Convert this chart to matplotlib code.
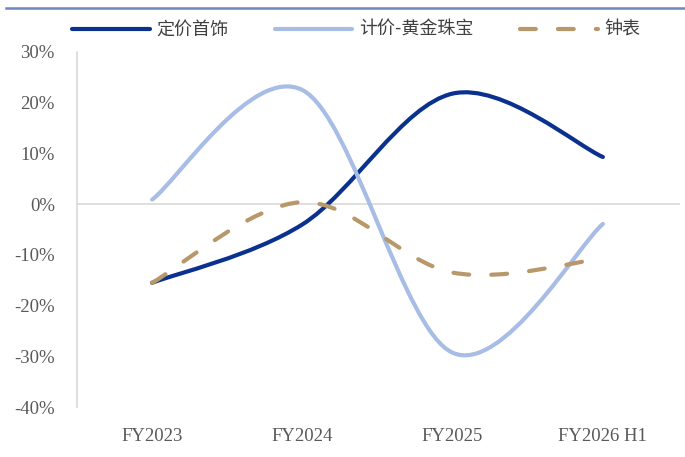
import numpy as np
import matplotlib
matplotlib.use("Agg")
import matplotlib.pyplot as plt
from matplotlib.path import Path
from matplotlib.patches import PathPatch
from matplotlib.lines import Line2D

categories = ["FY2023", "FY2024", "FY2025", "FY2026 H1"]
pricing_jewelry = [-15.5, -4.0, 21.8, 9.3]      # 定价首饰
gold_by_weight = [0.9, 22.5, -29.3, -3.9]       # 计价-黄金珠宝
watches = [-15.5, 0.4, -13.5, -10.7]            # 钟表
yticks = list(range(-40, 31, 10))

plt.rcParams["font.family"] = ["Noto Sans CJK SC", "DejaVu Sans"]


def smooth_path(ys):
    # Excel-like smoothed line: cubic Bezier through every point
    xs = np.arange(len(ys), dtype=float)
    pts = np.column_stack([xs, np.asarray(ys, float)])
    ext = np.vstack([pts[0], pts, pts[-1]])
    verts = [tuple(pts[0])]
    codes = [Path.MOVETO]
    for i in range(len(pts) - 1):
        p0, p1, p2, p3 = ext[i], ext[i + 1], ext[i + 2], ext[i + 3]
        c1 = p1 + (p2 - p0) / 6
        c2 = p2 - (p3 - p1) / 6
        verts += [tuple(c1), tuple(c2), tuple(p2)]
        codes += [Path.CURVE4] * 3
    return Path(verts, codes)


fig = plt.figure(figsize=(6.85, 4.57), dpi=100)
ax = fig.add_axes([77 / 685, 1 - 407 / 457, 603 / 685, 355 / 457])

series = [
    ("定价首饰", pricing_jewelry, "#0b318f", "-"),
    ("计价-黄金珠宝", gold_by_weight, "#a7bde6", "-"),
    ("钟表", watches, "#b8986a", (0, (3.8, 5.3))),
]
handles = []
for name, vals, col, ls in series:
    patch = PathPatch(smooth_path(vals), facecolor="none", edgecolor=col,
                      lw=3.0, linestyle=ls, capstyle="round", joinstyle="round", zorder=3)
    ax.add_patch(patch)
    h = Line2D([], [], color=col, lw=3.0, linestyle=ls, dash_capstyle="round",
               solid_capstyle="round")
    handles.append(h)

ax.axhline(0, color="#d9d9d9", lw=1.2, zorder=1)
ax.set_xlim(-0.5, len(categories) - 0.5 + 2 / 150)
ax.set_ylim(-40, 30)
ax.set_yticks(yticks)
ax.set_yticklabels([f"{t}%" for t in yticks], family="Liberation Serif",
                   fontsize=13.5, color="#595959")
ax.set_xticks(range(len(categories)))
ax.set_xticklabels(categories, family="Liberation Serif", fontsize=13.5, color="#595959")
ax.tick_params(axis="y", length=0, pad=16)
ax.tick_params(axis="x", length=0, pad=15)
for s in ["top", "right", "bottom"]:
    ax.spines[s].set_visible(False)
ax.spines["left"].set_color("#d9d9d9")
ax.spines["left"].set_linewidth(1.2)

fig.legend(handles, [s[0] for s in series], loc="center",
           bbox_to_anchor=(356 / 685, 1 - 30 / 457), ncol=3, frameon=False,
           fontsize=13, handlelength=4.3, handletextpad=0.35, columnspacing=2.6,
           labelcolor="#404040")

fig.add_artist(Line2D([6 / 685, 1.0], [1 - 8 / 457] * 2, color="#6f87bf", lw=1.8,
                      transform=fig.transFigure))

fig.savefig("out.png", dpi=100)
